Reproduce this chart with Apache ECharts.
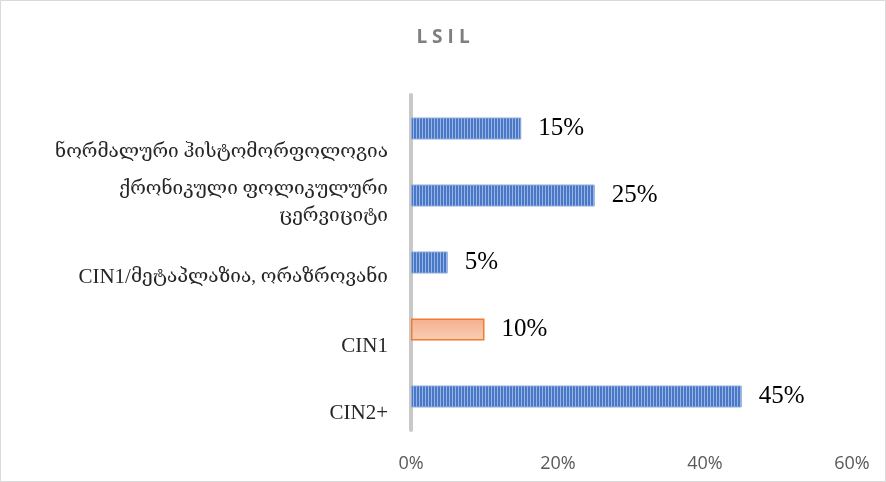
<!DOCTYPE html>
<html>
<head>
<meta charset="utf-8">
<script src="https://cdn.jsdelivr.net/npm/echarts@6/dist/echarts.min.js"></script>
<style>
  html, body { margin: 0; padding: 0; background: #fff; }
  #chart { width: 886px; height: 482px; }
</style>
</head>
<body>
<div id="chart"></div>
<script>
// Categories listed top to bottom
const categories = [
  'ნორმალური ჰისტომორფოლოგია',
  'ქრონიკული ფოლიკულური\nცერვიციტი',
  'CIN1/მეტაპლაზია, ორაზროვანი',
  'CIN1',
  'CIN2+'
];
const values = [15, 25, 5, 10, 45];
// Which bar gets the highlighted (orange) style
const highlighted = [false, false, false, true, false];
const xTicks = [0, 20, 40, 60];
const titleText = 'LSIL';

// Vertical stripe fill for the blue bars
function stripeCanvas() {
  const c = document.createElement('canvas');
  c.width = 3; c.height = 4;
  const ctx = c.getContext('2d');
  ctx.fillStyle = '#4a78c8';
  ctx.fillRect(0, 0, 3, 4);
  ctx.fillStyle = '#9ab4e2';
  ctx.fillRect(2, 0, 1, 4);
  return c;
}
const stripe = { image: stripeCanvas(), repeat: 'repeat' };

const serif = "'Liberation Serif', 'DejaVu Serif', serif";

// Spacer style per category label (pushes each text below its bar centre)
const spacerStyles = ['sp0', 'sp1', 'sp2', 'sp3', 'sp3'];

// Split a label into Latin and Georgian runs so each gets its own size
function richLabel(text, idx) {
  const body = text.split('\n').map(line =>
    line.replace(/([A-Za-z0-9+\/]+)|([^A-Za-z0-9+\/]+)/g, (m, lat, geo) =>
      lat ? '{lat|' + lat + '}' : '{geo|' + geo + '}')
  ).join('\n');
  return '{' + spacerStyles[idx] + '| }\n' + body;
}

const chart = echarts.init(document.getElementById('chart'), null, { renderer: 'canvas' });
chart.setOption({
  animation: false,
  backgroundColor: '#ffffff',
  graphic: [{
    type: 'rect',
    shape: { x: 0.5, y: 0.5, width: 885, height: 481 },
    style: { fill: 'none', stroke: '#d9d9d9', lineWidth: 1 },
    silent: true
  }, {
    // letter-spaced title, one token per letter
    type: 'text',
    left: 'center',
    top: 28,
    style: {
      text: titleText.split('').map(ch => '{t|' + ch + '}').join(''),
      rich: {
        t: {
          fontFamily: "'Open Sans', 'Liberation Sans', sans-serif",
          fontSize: 19,
          fontWeight: 'bold',
          fill: '#7f7f7f',
          padding: [0, 2.5, 0, 2.5]
        }
      }
    }
  }],
  grid: { left: 411, right: 34, top: 95, bottom: 52, containLabel: false },
  xAxis: {
    type: 'value',
    min: xTicks[0],
    max: xTicks[xTicks.length - 1],
    interval: 20,
    axisLine: { show: false },
    axisTick: { show: false },
    splitLine: { show: false },
    axisLabel: {
      formatter: '{value}%',
      color: '#595959',
      fontSize: 18,
      margin: 25,
      fontFamily: "'Open Sans', 'Liberation Sans', sans-serif"
    }
  },
  yAxis: {
    type: 'category',
    inverse: true,
    data: categories,
    axisLine: { show: true, lineStyle: { color: '#c8c8c8', width: 4 } },
    axisTick: { show: false },
    axisLabel: {
      margin: 23,
      align: 'right',
      formatter: (v, i) => richLabel(v, i),
      rich: {
        lat: { fontFamily: serif, fontSize: 21, color: '#262626', lineHeight: 27 },
        geo: { fontFamily: serif, fontSize: 19, color: '#262626', lineHeight: 27 },
        sp0: { fontSize: 6, lineHeight: 47 },
        sp1: { fontSize: 6, lineHeight: 15 },
        sp2: { fontSize: 6, lineHeight: 30 },
        sp3: { fontSize: 6, lineHeight: 34 }
      }
    }
  },
  series: [{
    type: 'bar',
    barWidth: 22,
    data: values.map((v, i) => ({
      value: v,
      itemStyle: highlighted[i] ? {
        color: {
          type: 'linear', x: 0, y: 0, x2: 0, y2: 1,
          colorStops: [{ offset: 0, color: '#f5b08e' }, { offset: 1, color: '#f9cdb6' }]
        },
        borderColor: '#ed7d31',
        borderWidth: 1.5
      } : {
        color: stripe,
        borderColor: '#8eaadc',
        borderWidth: 1
      }
    })),
    label: {
      show: true,
      position: 'right',
      distance: 17,
      formatter: '{c}%',
      color: '#000000',
      fontSize: 25,
      fontFamily: serif
    }
  }]
});
</script>
</body>
</html>
